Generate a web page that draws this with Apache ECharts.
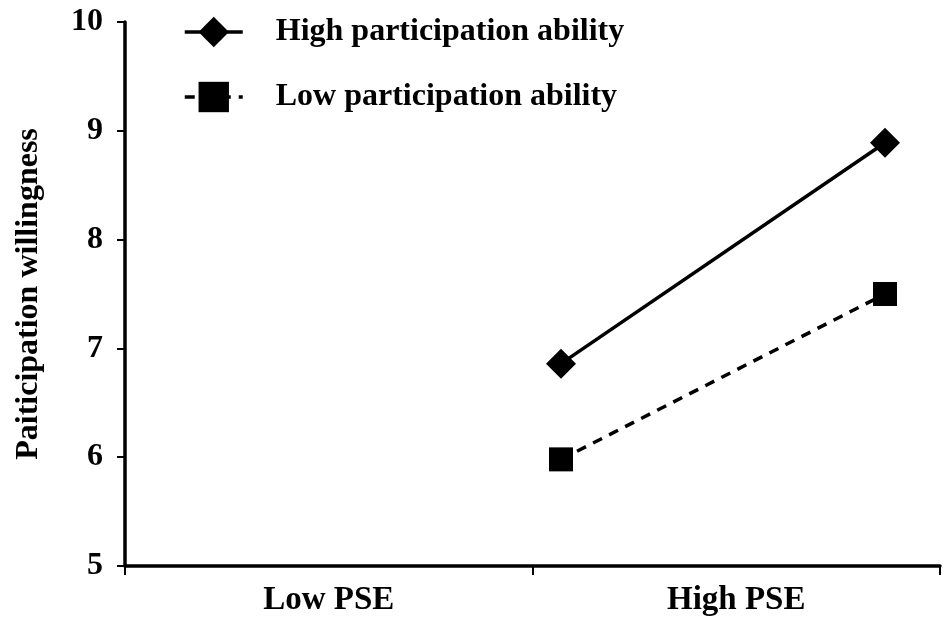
<!DOCTYPE html>
<html>
<head>
<meta charset="utf-8">
<script src="https://cdn.jsdelivr.net/npm/echarts@6/dist/echarts.min.js"></script>
<style>
  html, body { margin: 0; padding: 0; background: #fff; }
  #chart { width: 950px; height: 624px; }
</style>
</head>
<body>
<div id="chart"></div>
<script>
var categories = ["Low PSE", "High PSE"];
var pointX = [1.07, 1.865];
var highAbility = [6.86, 8.89];
var lowAbility = [5.98, 7.5];
var seriesNames = ["High participation ability", "Low participation ability"];
var yTicks = [5, 6, 7, 8, 9, 10];

var font = "Liberation Serif";

function pairs(xs, ys) {
  return xs.map(function (x, i) { return [x, ys[i]]; });
}

var myChart = echarts.init(document.getElementById("chart"));
var option = {
  backgroundColor: "#fff",
  animation: false,
  legend: {
    orient: "vertical",
    left: 178,
    top: 11,
    itemWidth: 58,
    itemHeight: 38,
    itemGap: 33,
    lineStyle: { width: 3.5 },
    textStyle: {
      fontFamily: font,
      fontWeight: "bold",
      fontSize: 32,
      color: "#000",
      padding: [0, 0, 0, 28]
    },
    data: seriesNames
  },
  grid: {
    left: 125,
    right: 10,
    top: 22,
    bottom: 58,
    containLabel: false
  },
  xAxis: [
    {
      type: "category",
      data: categories,
      boundaryGap: true,
      axisLine: { lineStyle: { color: "#000", width: 3.5 } },
      axisTick: { show: true, length: 9, lineStyle: { color: "#000", width: 2 } },
      axisLabel: {
        fontFamily: font,
        fontWeight: "bold",
        fontSize: 33,
        color: "#000",
        margin: 18
      },
      splitLine: { show: false }
    },
    {
      type: "value",
      min: 0,
      max: 2,
      show: false
    }
  ],
  yAxis: {
    type: "value",
    min: yTicks[0],
    max: yTicks[yTicks.length - 1],
    interval: 1,
    name: "Paiticipation willingness",
    nameLocation: "middle",
    nameGap: 80,
    nameTextStyle: {
      fontFamily: font,
      fontWeight: "bold",
      fontSize: 32,
      color: "#000"
    },
    axisLine: { show: true, lineStyle: { color: "#000", width: 3.5 } },
    axisTick: { show: true, length: 8, lineStyle: { color: "#000", width: 2 } },
    axisLabel: {
      fontFamily: font,
      fontWeight: "bold",
      fontSize: 32,
      color: "#000",
      margin: 22
    },
    splitLine: { show: false }
  },
  series: [
    {
      name: seriesNames[0],
      type: "line",
      xAxisIndex: 1,
      data: pairs(pointX, highAbility),
      symbol: "diamond",
      symbolSize: 30,
      itemStyle: { color: "#000" },
      lineStyle: { color: "#000", width: 3.5, type: "solid" }
    },
    {
      name: seriesNames[1],
      type: "line",
      xAxisIndex: 1,
      data: pairs(pointX, lowAbility),
      symbol: "rect",
      symbolSize: 24,
      itemStyle: { color: "#000" },
      lineStyle: { color: "#000", width: 3.5, type: [10, 8] }
    }
  ]
};

option && myChart.setOption(option);
</script>
</body>
</html>
